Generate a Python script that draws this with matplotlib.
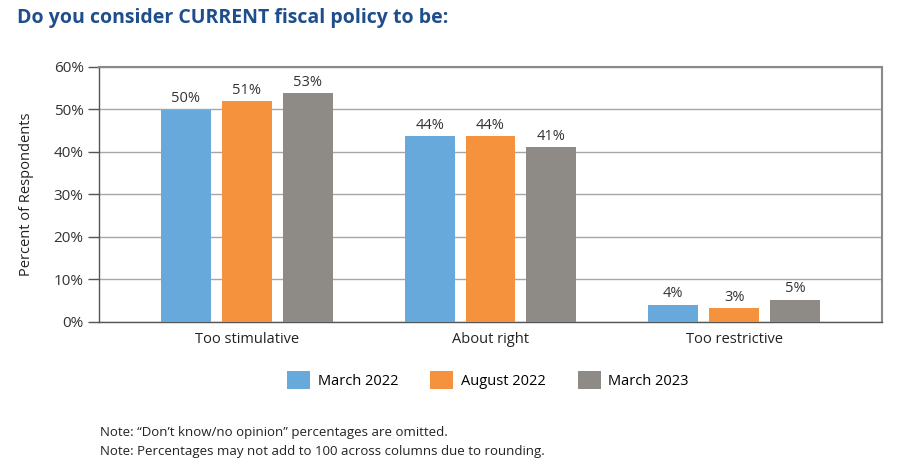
import matplotlib
matplotlib.use("Agg")
import matplotlib.pyplot as plt
import numpy as np

categories = ["Too stimulative", "About right", "Too restrictive"]
series_names = ["March 2022", "August 2022", "March 2023"]
# bar heights, labels are the printed rounded values
march_2022 = [49.9, 43.7, 4.0]
august_2022 = [51.8, 43.7, 3.2]
march_2023 = [53.7, 41.1, 5.2]
march_2022_labels = ["50%", "44%", "4%"]
august_2022_labels = ["51%", "44%", "3%"]
march_2023_labels = ["53%", "41%", "5%"]
y_ticks = [0, 10, 20, 30, 40, 50, 60]

colors = ["#68a9dc", "#f5923e", "#8e8b87"]

plt.rcParams["font.family"] = ["Open Sans", "DejaVu Sans"]

fig = plt.figure(figsize=(9, 4.72), dpi=100)
ax = fig.add_axes([0.11, 0.318, 0.87, 0.541])

x = np.arange(len(categories))
width = 0.205
offset = 0.25
values = [march_2022, august_2022, march_2023]
labels = [march_2022_labels, august_2022_labels, march_2023_labels]

handles = []
for i, (vals, labs) in enumerate(zip(values, labels)):
    bars = ax.bar(x + (i - 1) * offset, vals, width, color=colors[i],
                  label=series_names[i], zorder=3)
    handles.append(bars)
    for b, lab in zip(bars, labs):
        ax.text(b.get_x() + b.get_width() / 2, b.get_height() + 0.8, lab,
                ha="center", va="bottom", fontsize=10.5, color="#333333")

ax.set_xlim(-0.607, 2.607)
ax.set_ylim(0, 60)
ax.set_yticks(y_ticks)
ax.set_yticklabels([f"{v}%" for v in y_ticks], fontsize=11, color="#333333")
ax.set_xticks(x)
ax.set_xticklabels(categories, fontsize=10.5, color="#222222")
ax.tick_params(axis="x", length=0, pad=7)
ax.tick_params(axis="y", length=8, width=1, color="#555555", pad=3)

ax.yaxis.grid(True, color="#a6a6a6", linewidth=1, zorder=0)
ax.set_axisbelow(True)
for side in ["left", "bottom"]:
    ax.spines[side].set_color("#555555")
    ax.spines[side].set_linewidth(1)
for side in ["top", "right"]:
    ax.spines[side].set_color("#8a8a8a")
    ax.spines[side].set_linewidth(1.5)

ax.set_ylabel("Percent of Respondents", fontsize=10.5, color="#222222", labelpad=14)

fig.legend(handles=handles, loc="center", bbox_to_anchor=(0.542, 0.195), ncol=3,
           frameon=False, fontsize=10.5, handlelength=1.6, handleheight=1.6,
           columnspacing=2.2, handletextpad=0.5)

fig.text(0.019, 0.962, "Do you consider CURRENT fiscal policy to be:", fontsize=14,
         fontweight="bold", color="#1f4e8c", ha="left", va="center")

fig.text(0.111, 0.083, "Note: \u201cDon\u2019t know/no opinion\u201d percentages are omitted.",
         fontsize=9.5, color="#222222", ha="left", va="center")
fig.text(0.111, 0.044, "Note: Percentages may not add to 100 across columns due to rounding.",
         fontsize=9.5, color="#222222", ha="left", va="center")

fig.savefig("out.png", dpi=100)
